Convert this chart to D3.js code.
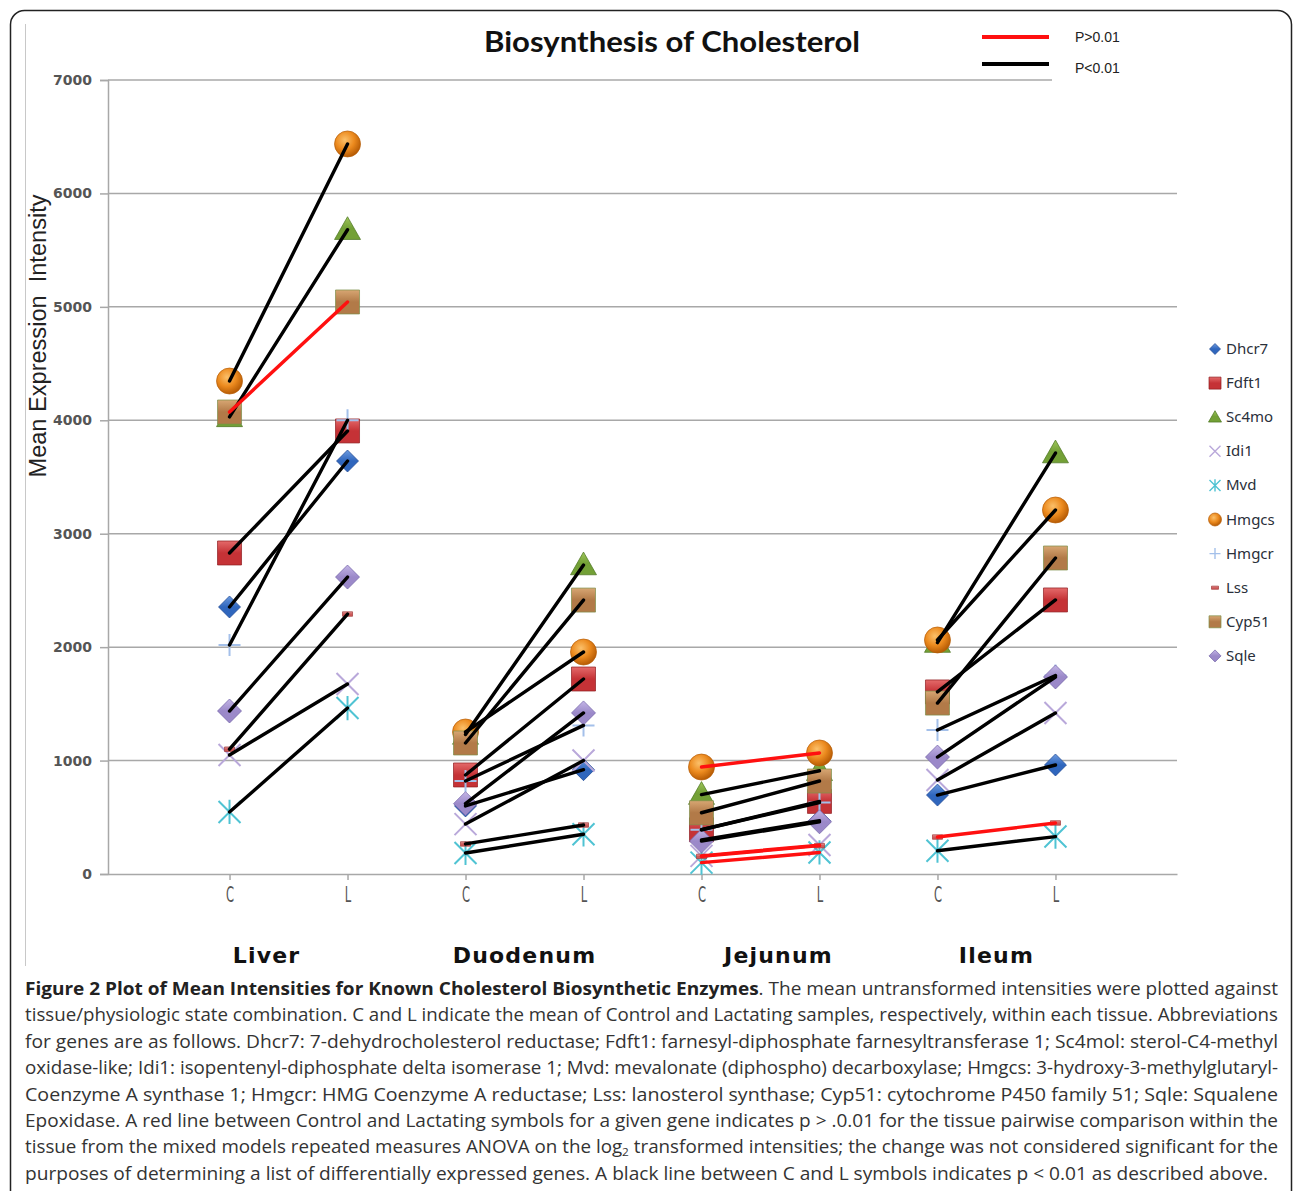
<!DOCTYPE html>
<html>
<head>
<meta charset="utf-8">
<script src="https://cdn.jsdelivr.net/npm/d3@7"></script>
<style>
  body { margin: 0; background: #fff; }
  svg { display: block; }
</style>
</head>
<body>
<div id="chart"></div>
<script>
// tissues and the two states inside each tissue
const tissues = ["Liver", "Duodenum", "Jejunum", "Ileum"];
const states = ["C", "L"];
const genes = ["Dhcr7", "Fdft1", "Sc4mo", "Idi1", "Mvd", "Hmgcs", "Hmgcr", "Lss", "Cyp51", "Sqle"];

// mean intensities: Liver C, Liver L, Duodenum C, Duodenum L, Jejunum C, Jejunum L, Ileum C, Ileum L
const dhcr7 = [2354, 3641, 600, 920, 300, 470, 696, 961];
const fdft1 = [2830, 3906, 873, 1719, 390, 640, 1605, 2416];
const sc4mo = [4030, 5680, 1230, 2724, 700, 910, 2040, 3711];
const idi1  = [1049, 1675, 440, 1000, 160, 255, 829, 1419];
const mvd   = [547, 1463, 185, 350, 100, 190, 205, 330];
const hmgcs = [4346, 6436, 1252, 1957, 943, 1067, 2063, 3209];
const hmgcr = [2019, 4000, 820, 1310, 390, 630, 1270, 1750];
const lss   = [1100, 2292, 265, 432, 155, 250, 326, 450];
const cyp51 = [4073, 5043, 1155, 2415, 540, 820, 1507, 2786];
const sqle  = [1437, 2618, 620, 1420, 290, 460, 1031, 1737];

// p > 0.01 (red line) per tissue: Liver, Duodenum, Jejunum, Ileum
const nsDhcr7 = [0, 0, 0, 0];
const nsFdft1 = [0, 0, 0, 0];
const nsSc4mo = [0, 0, 0, 0];
const nsIdi1  = [0, 0, 1, 0];
const nsMvd   = [0, 0, 1, 0];
const nsHmgcs = [0, 0, 1, 0];
const nsHmgcr = [0, 0, 0, 0];
const nsLss   = [0, 0, 1, 1];
const nsCyp51 = [1, 0, 0, 0];
const nsSqle  = [0, 0, 0, 0];

const yTicks = [0, 1000, 2000, 3000, 4000, 5000, 6000, 7000];
const legendLines = ["P>0.01", "P<0.01"];

const values = [dhcr7, fdft1, sc4mo, idi1, mvd, hmgcs, hmgcr, lss, cyp51, sqle];
const notSig = [nsDhcr7, nsFdft1, nsSc4mo, nsIdi1, nsMvd, nsHmgcs, nsHmgcr, nsLss, nsCyp51, nsSqle];

const keys = tissues.flatMap(t => states.map(s => t + "-" + s));

const W = 1293, H = 1191;
const svg = d3.select("#chart").append("svg")
    .attr("width", W)
    .attr("height", H);

// marker look for each gene
const style = {
  Dhcr7: {shape: "diamond", r: 11, c: ["#6d9be0", "#2f66bd", "#1c4690"]},
  Fdft1: {shape: "square", r: 12, c: ["#e46a6a", "#c53236", "#8e1c20"]},
  Sc4mo: {shape: "triangle", r: 13, c: ["#9fc65a", "#73a036", "#4a7420"]},
  Idi1:  {shape: "x", r: 11, c: ["#b9a8da"]},
  Mvd:   {shape: "star", r: 11, c: ["#4fc3d3"]},
  Hmgcs: {shape: "circle", r: 13, c: ["#fbc06a", "#ec8a1e", "#b75c05"]},
  Hmgcr: {shape: "plus", r: 11, c: ["#a4c0ea"]},
  Lss:   {shape: "dash", r: 5, c: ["#e79a9a", "#cf5a5a", "#a03a3a"]},
  Cyp51: {shape: "square", r: 12, c: ["#d7a673", "#b27a48", "#7e8f48"]},
  Sqle:  {shape: "diamond", r: 12, c: ["#c3b5e6", "#9b89c9", "#6f5fa5"]}
};

const defs = svg.append("defs");
genes.forEach(g => {
  const s = style[g];
  if (s.c.length < 3) return;
  if (s.shape === "circle") {
    const rg = defs.append("radialGradient").attr("id", "g-" + g)
        .attr("cx", "40%").attr("cy", "35%").attr("r", "65%");
    rg.append("stop").attr("offset", "0%").attr("stop-color", s.c[0]);
    rg.append("stop").attr("offset", "55%").attr("stop-color", s.c[1]);
    rg.append("stop").attr("offset", "100%").attr("stop-color", s.c[2]);
  } else {
    const lg = defs.append("linearGradient").attr("id", "g-" + g)
        .attr("x1", 0).attr("y1", 0).attr("x2", 0).attr("y2", 1);
    lg.append("stop").attr("offset", "0%").attr("stop-color", s.c[0]);
    lg.append("stop").attr("offset", "50%").attr("stop-color", s.c[1]);
    lg.append("stop").attr("offset", "100%").attr("stop-color", s.c[1]);
  }
});

function markerPath(shape, r) {
  switch (shape) {
    case "diamond": return `M0,${-r}L${r},0L0,${r}L${-r},0Z`;
    case "square": return `M${-r},${-r}H${r}V${r}H${-r}Z`;
    case "triangle": return `M0,${-r}L${r},${r * 0.75}L${-r},${r * 0.75}Z`;
    case "x": return `M${-r},${-r}L${r},${r}M${r},${-r}L${-r},${r}`;
    case "star": return `M${-r},${-r}L${r},${r}M${r},${-r}L${-r},${r}M0,${-r * 1.1}V${r * 1.1}`;
    case "plus": return `M${-r},0H${r}M0,${-r}V${r}`;
    case "dash": return `M${-r},${-r * 0.45}H${r}V${r * 0.45}H${-r}Z`;
    case "circle": return d3.symbol(d3.symbolCircle, Math.PI * r * r)();
  }
}

function drawMarker(sel, g, scale) {
  const s = style[g];
  const r = s.r * scale;
  const p = sel.append("path").attr("d", markerPath(s.shape, r));
  if (["x", "star", "plus"].includes(s.shape)) {
    p.attr("fill", "none").attr("stroke", s.c[0]).attr("stroke-width", 2 * Math.max(scale, 0.7));
  } else {
    p.attr("fill", "url(#g-" + g + ")").attr("stroke", s.c[2]).attr("stroke-width", 1)
     .attr("stroke-opacity", 0.7);
  }
  return p;
}

// frame of the figure box
svg.append("rect")
    .attr("x", 10.5).attr("y", 10.5)
    .attr("width", 1281).attr("height", 1220)
    .attr("rx", 14)
    .attr("fill", "none").attr("stroke", "#222").attr("stroke-width", 1.5);
svg.append("line")
    .attr("x1", 25.5).attr("x2", 25.5).attr("y1", 24).attr("y2", 966)
    .attr("stroke", "#c8c8c8");

const x = d3.scalePoint().domain(keys).range([108, 1177]).padding(1.03);
const y = d3.scaleLinear().domain([0, 7000]).range([874, 80]);

// gridlines
svg.append("g").selectAll("line")
  .data(yTicks.filter(d => d > 0))
  .enter().append("line")
    .attr("x1", 108)
    .attr("x2", d => d === 7000 ? 1052 : 1177)
    .attr("y1", d => y(d)).attr("y2", d => y(d))
    .attr("stroke", "#a8a8a8").attr("stroke-width", 1.5);

// y axis
const yAxis = svg.append("g")
    .attr("transform", "translate(108,0)")
    .call(d3.axisLeft(y).tickValues(yTicks).tickSize(8).tickPadding(8).tickFormat(d3.format("d")));
yAxis.select(".domain").attr("stroke", "#a8a8a8").attr("stroke-width", 1.5);
yAxis.selectAll(".tick line").attr("stroke", "#a8a8a8").attr("stroke-width", 1.5);
yAxis.selectAll(".tick text")
    .attr("font-family", "DejaVu Sans").attr("font-weight", "bold")
    .attr("font-size", 14).attr("fill", "#555");

// x axis, labels squeezed to look like the narrow original glyphs
const xAxis = svg.append("g")
    .attr("transform", "translate(0,874)")
    .call(d3.axisBottom(x).tickSize(6).tickSizeOuter(0).tickFormat(d => d.split("-")[1]));
xAxis.select(".domain").attr("stroke", "#a8a8a8").attr("stroke-width", 1.5);
xAxis.selectAll(".tick line").attr("stroke", "#a8a8a8").attr("stroke-width", 1.5);
xAxis.selectAll(".tick text")
    .attr("font-family", "DejaVu Sans").attr("font-size", 21)
    .attr("fill", "#555").attr("dy", "0.92em")
    .attr("transform", "scale(0.55,1)");

// tissue names under the pairs
svg.append("g").selectAll("text")
  .data(tissues)
  .enter().append("text")
    .attr("x", d => (x(d + "-C") + x(d + "-L")) / 2 + (d === "Liver" ? -22 : d === "Jejunum" ? 18 : 0))
    .attr("y", 963)
    .attr("text-anchor", "middle")
    .attr("font-family", "DejaVu Sans").attr("font-weight", "bold")
    .attr("font-size", 22).attr("letter-spacing", 1.2).attr("fill", "#111")
    .text(d => d);

// markers, one series after another
const marks = svg.append("g");
genes.forEach((g, gi) => {
  keys.forEach((k, ki) => {
    const m = marks.append("g").attr("transform", `translate(${x(k)},${y(values[gi][ki])})`);
    drawMarker(m, g, 1);
  });
});

// connecting lines C -> L, drawn over the markers
const links = [];
genes.forEach((g, gi) => {
  tissues.forEach((t, ti) => {
    links.push({
      x1: x(t + "-C"), y1: y(values[gi][ti * 2]),
      x2: x(t + "-L"), y2: y(values[gi][ti * 2 + 1]),
      red: notSig[gi][ti] === 1
    });
  });
});
svg.append("g").selectAll("line")
  .data(links)
  .enter().append("line")
    .attr("x1", d => d.x1).attr("y1", d => d.y1)
    .attr("x2", d => d.x2).attr("y2", d => d.y2)
    .attr("stroke", d => d.red ? "#ff1010" : "#000")
    .attr("stroke-width", 3.4)
    .attr("stroke-linecap", "round");

// title
svg.append("text")
    .attr("x", 672).attr("y", 52)
    .attr("text-anchor", "middle")
    .attr("font-family", "Lato").attr("font-weight", "bold")
    .attr("font-size", 29).attr("fill", "#111")
    .attr("textLength", 376).attr("lengthAdjust", "spacingAndGlyphs")
    .text("Biosynthesis of Cholesterol");

// y axis title
svg.append("text")
    .attr("transform", "translate(46,336) rotate(-90)")
    .attr("text-anchor", "middle")
    .attr("font-family", "Liberation Sans")
    .attr("font-size", 23).attr("fill", "#222")
    .attr("textLength", 283).attr("lengthAdjust", "spacingAndGlyphs")
    .style("white-space", "pre")
    .text("Mean Expression  Intensity");

// significance legend
const pl = svg.append("g");
legendLines.forEach((l, i) => {
  pl.append("line")
      .attr("x1", 982).attr("x2", 1049)
      .attr("y1", 37 + i * 27).attr("y2", 37 + i * 27)
      .attr("stroke", i === 0 ? "#ff1010" : "#000").attr("stroke-width", 4);
  pl.append("text")
      .attr("x", 1075).attr("y", 42 + i * 31)
      .attr("font-family", "Liberation Sans").attr("font-size", 14).attr("fill", "#222")
      .text(l);
});

// gene legend
const gl = svg.append("g");
genes.forEach((g, i) => {
  const row = gl.append("g").attr("transform", `translate(1215,${349 + i * 34.1})`);
  drawMarker(row, g, style[g].shape === "dash" ? 0.7 : 0.5);
  row.append("text")
      .attr("x", 11).attr("y", 5)
      .attr("font-family", "Noto Sans").attr("font-size", 15).attr("fill", "#2a2f3a")
      .text(g);
});

// caption
const cap = svg.append("g")
    .attr("font-family", "Open Sans")
    .attr("font-size", 17.5)
    .attr("fill", "#333");
const capLines = [
  [["b", "Figure 2 Plot of Mean Intensities for Known Cholesterol Biosynthetic Enzymes"], ["", ". The mean untransformed intensities were plotted against"]],
  [["", "tissue/physiologic state combination. C and L indicate the mean of Control and Lactating samples, respectively, within each tissue. Abbreviations"]],
  [["", "for genes are as follows. Dhcr7: 7-dehydrocholesterol reductase; Fdft1: farnesyl-diphosphate farnesyltransferase 1; Sc4mol: sterol-C4-methyl"]],
  [["", "oxidase-like; Idi1: isopentenyl-diphosphate delta isomerase 1; Mvd: mevalonate (diphospho) decarboxylase; Hmgcs: 3-hydroxy-3-methylglutaryl-"]],
  [["", "Coenzyme A synthase 1; Hmgcr: HMG Coenzyme A reductase; Lss: lanosterol synthase; Cyp51: cytochrome P450 family 51; Sqle: Squalene"]],
  [["", "Epoxidase. A red line between Control and Lactating symbols for a given gene indicates p > .0.01 for the tissue pairwise comparison within the"]],
  [["", "tissue from the mixed models repeated measures ANOVA on the log"], ["sub", "2"], ["up", " transformed intensities; the change was not considered significant for the"]],
  [["", "purposes of determining a list of differentially expressed genes. A black line between C and L symbols indicates p < 0.01 as described above."]]
];
const capWidths = [1253, 1253, 1253, 1253, 1253, 1253, 1253, 1243];
capLines.forEach((parts, i) => {
  const t = cap.append("text")
      .attr("x", 25).attr("y", 995 + i * 26.4)
      .attr("textLength", capWidths[i]).attr("lengthAdjust", "spacingAndGlyphs");
  parts.forEach(p => {
    const ts = t.append("tspan").text(p[1]);
    if (p[0] === "b") ts.attr("font-weight", "bold").attr("fill", "#222");
    if (p[0] === "sub") ts.attr("font-size", 11).attr("dy", 3);
    if (p[0] === "up") ts.attr("dy", -3);
  });
});
</script>
</body>
</html>
